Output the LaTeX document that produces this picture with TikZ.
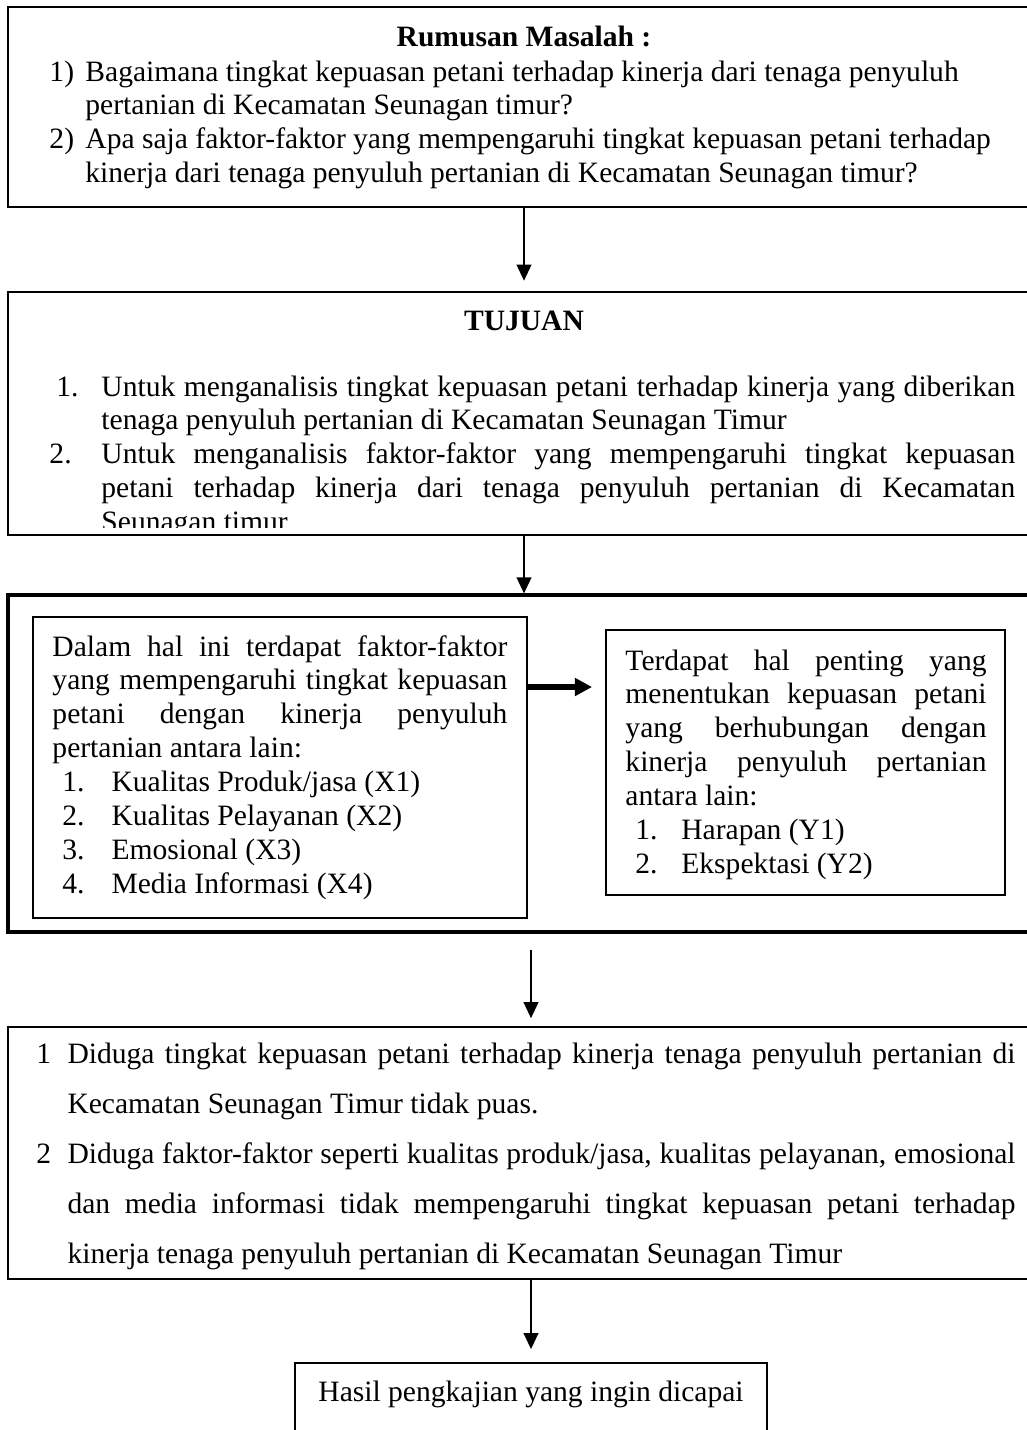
\documentclass[tikz,border=0pt]{standalone}
\usepackage{fontspec}
\setmainfont{Liberation Serif}
\usepackage{array}
\usetikzlibrary{fit}
\usetikzlibrary{calc}
\usetikzlibrary {arrows.meta}

\begin{document}
\begin{tikzpicture}[x=0.406pt,y=-0.406pt,
        kotak/.style={draw,inner sep=0pt,line width=0.8pt},
        teks/.style={inner sep=0pt,anchor=base west,font=\fontsize{12}{13.8}\selectfont},
        panah/.style={arrows = -{Triangle[length=6.5pt,width=6pt]},line width=0.6pt},
        tebal/.style={arrows = -{Triangle[length=7pt,width=7pt]},line width=2.8pt}]

        %\draw [help lines] (0,0) grid (1027,1430);
        \useasboundingbox (0,0) rectangle (1027,1430);
        \clip (0,0) rectangle (1027,1430);

        \path   node (masalah) [kotak,fit={(8,7) (1040,207)}] {}
                node (tujuan) [kotak,line width=1.2pt,fit={(8,292) (1040,535)}] {}
                node (faktor) [kotak,line width=1.3pt,fit={(8,595) (1040,932)}] {}
                node (kiri) [kotak,line width=0.7pt,fit={(33,617) (527,918)}] {}
                node (kanan) [kotak,line width=0.7pt,fit={(606,630) (1005,895)}] {}
                node (hipotesis) [kotak,fit={(8,1027) (1040,1279)}] {}
                node (hasil) [kotak,line width=0.7pt,fit={(295,1363) (767,1470)}] {};

        \path   (524,46) node (judul1) [teks,anchor=base] {\textbf{Rumusan Masalah :}}
                (49,81) node (isi1) [teks] {\begin{tabular}[t]{@{}p{14.6pt}@{}l@{}}
                1) & Bagaimana tingkat kepuasan petani terhadap kinerja dari tenaga penyuluh\\
                   & pertanian di Kecamatan Seunagan timur?\\
                2) & Apa saja faktor-faktor yang mempengaruhi tingkat kepuasan petani terhadap\\
                   & kinerja dari tenaga penyuluh pertanian di Kecamatan Seunagan timur?
                \end{tabular}}
                (524,330) node (judul2) [teks,anchor=base] {\textbf{TUJUAN}};

        \begin{scope}
        \clip (tujuan.north west) rectangle (1040,527);
        \path   (49,396) node (isi2) [teks] {\begin{tabular}[t]{@{}p{21.1pt}@{}p{371pt}@{}}
                \hspace{2.8pt}1. & Untuk menganalisis tingkat kepuasan petani terhadap kinerja yang diberikan\linebreak
                tenaga penyuluh pertanian di Kecamatan Seunagan Timur\\
                2. & Untuk menganalisis faktor-faktor yang mempengaruhi tingkat kepuasan\linebreak
                petani terhadap kinerja dari tenaga penyuluh pertanian di Kecamatan\linebreak
                Seunagan timur
                \end{tabular}};
        \end{scope}

        \path   (52,656) node (isikiri) [teks] {\begin{tabular}[t]{@{}p{24pt}@{}p{160.7pt}@{}}
                \multicolumn{2}{@{}p{184.7pt}@{}}{Dalam hal ini terdapat faktor-faktor\linebreak
                yang mempengaruhi tingkat kepuasan\linebreak
                petani dengan kinerja penyuluh\linebreak
                pertanian antara lain:}\\
                \hspace{4pt}1. & Kualitas Produk/jasa (X1)\\
                \hspace{4pt}2. & Kualitas Pelayanan (X2)\\
                \hspace{4pt}3. & Emosional (X3)\\
                \hspace{4pt}4. & Media Informasi (X4)
                \end{tabular}}
                (625,670) node (isikanan) [teks] {\begin{tabular}[t]{@{}p{22.7pt}@{}p{123.9pt}@{}}
                \multicolumn{2}{@{}p{146.6pt}@{}}{Terdapat hal penting yang\linebreak
                menentukan kepuasan petani\linebreak
                yang berhubungan dengan\linebreak
                kinerja penyuluh pertanian\linebreak
                antara lain:}\\
                \hspace{4pt}1. & Harapan (Y1)\\
                \hspace{4pt}2. & Ekspektasi (Y2)
                \end{tabular}}
                (36,1063) node (isi4) [teks,font=\fontsize{12}{20.3}\selectfont] {\begin{tabular}[t]{@{}p{12.6pt}@{}p{384.9pt}@{}}
                1 & Diduga tingkat kepuasan petani terhadap kinerja tenaga penyuluh pertanian di\linebreak
                Kecamatan Seunagan Timur tidak puas.\\
                2 & Diduga faktor-faktor seperti kualitas produk/jasa, kualitas pelayanan, emosional\linebreak
                dan media informasi tidak mempengaruhi tingkat kepuasan petani terhadap\linebreak
                kinerja tenaga penyuluh pertanian di Kecamatan Seunagan Timur
                \end{tabular}}
                (531,1401) node (isi5) [teks,anchor=base] {Hasil pengkajian yang ingin dicapai};

        \coordinate (panahy) at (0,687);

        \draw[panah,shorten >=4pt] (node cs:name=masalah) -- (node cs:name=tujuan);
        \draw[panah] (node cs:name=tujuan) -- (node cs:name=faktor);
        \draw[tebal,shorten >=5.3pt] (kiri.east |- panahy) -- (kanan.west |- panahy);
        \draw[panah,shorten <=6.5pt,shorten >=3.2pt] (faktor.south -| hasil.north) -- (hipotesis.north -| hasil.north);
        \draw[panah,shorten >=5.3pt] (hipotesis.south -| hasil.north) -- (hasil.north);

\end{tikzpicture}
\end{document}
